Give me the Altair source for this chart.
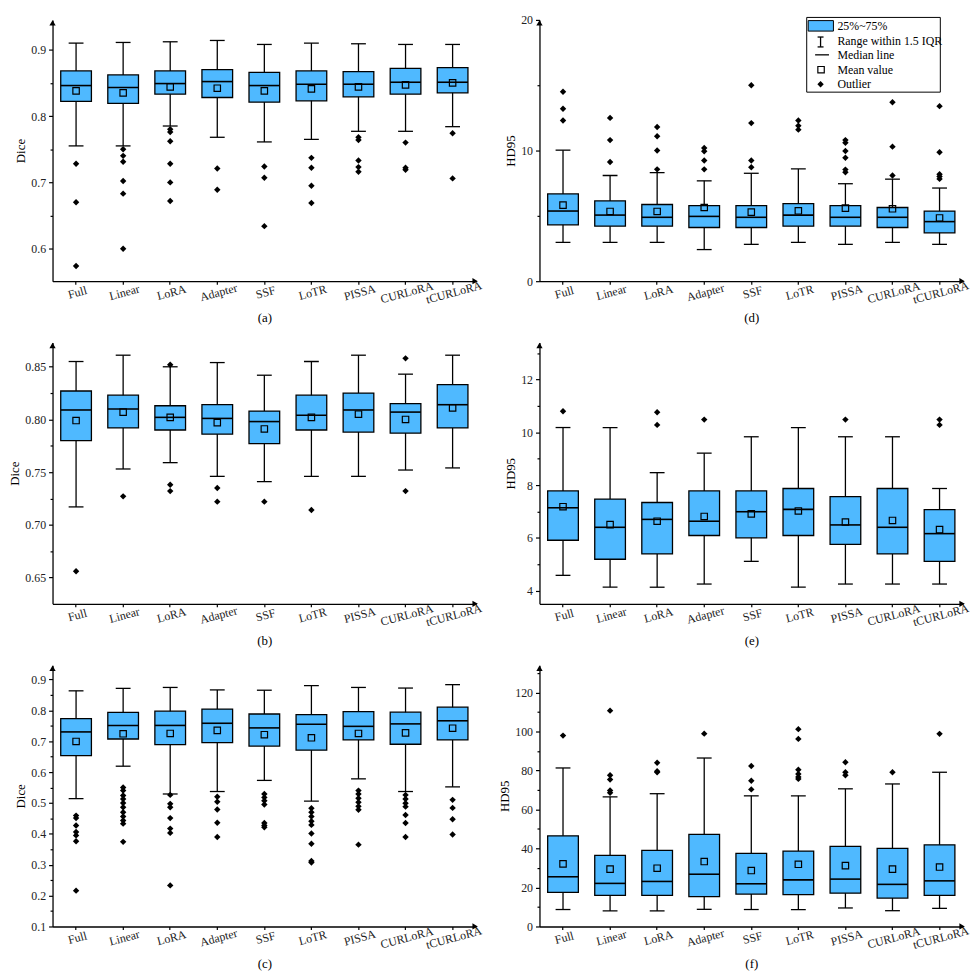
import altair as alt
import pandas as pd

METHODS = ["Full", "Linear", "LoRA", "Adapter", "SSF", "LoTR", "PISSA", "CURLoRA", "tCURLoRA"]
BLUE = "#4FB9FF"
FONT = "Liberation Serif"

# ---------- panel (a) Dice ----------
A_HI = [0.910, 0.911, 0.912, 0.914, 0.908, 0.910, 0.909, 0.908, 0.908]
A_Q3 = [0.868, 0.862, 0.868, 0.870, 0.866, 0.868, 0.867, 0.872, 0.873]
A_MED = [0.846, 0.843, 0.849, 0.852, 0.846, 0.848, 0.848, 0.851, 0.851]
A_Q1 = [0.822, 0.819, 0.833, 0.828, 0.821, 0.823, 0.829, 0.833, 0.835]
A_MEAN = [0.838, 0.835, 0.844, 0.842, 0.838, 0.841, 0.844, 0.847, 0.850]
A_LO = [0.755, 0.755, 0.785, 0.768, 0.761, 0.765, 0.777, 0.777, 0.784]
A_OUT = [[0.728, 0.670, 0.574], [0.750, 0.740, 0.731, 0.702, 0.683, 0.600],
         [0.780, 0.776, 0.762, 0.728, 0.700, 0.672], [0.721, 0.689],
         [0.724, 0.707, 0.634], [0.737, 0.722, 0.695, 0.669],
         [0.768, 0.764, 0.733, 0.723, 0.716], [0.760, 0.722, 0.719], [0.774, 0.706]]
A_TICKS = [0.6, 0.65, 0.7, 0.75, 0.8, 0.85, 0.9]

# ---------- panel (d) HD95 ----------
D_HI = [10.03, 8.09, 8.31, 7.68, 8.26, 8.59, 7.46, 7.81, 7.13]
D_Q3 = [6.68, 6.15, 5.87, 5.79, 5.79, 5.94, 5.79, 5.64, 5.37]
D_MED = [5.37, 5.06, 4.89, 4.96, 4.89, 5.06, 4.89, 4.89, 4.56]
D_Q1 = [4.31, 4.21, 4.21, 4.11, 4.11, 4.21, 4.21, 4.11, 3.70]
D_MEAN = [5.82, 5.34, 5.34, 5.64, 5.29, 5.39, 5.59, 5.54, 4.84]
D_LO = [2.97, 2.97, 2.97, 2.42, 2.82, 2.97, 2.82, 2.97, 2.82]
D_OUT = [[14.5, 13.2, 12.3], [12.5, 10.8, 9.12], [11.8, 11.1, 10.0, 8.56],
         [10.2, 9.95, 9.24, 8.56], [15.0, 12.1, 9.24, 8.72], [12.3, 11.9, 11.6],
         [10.8, 10.6, 9.97, 9.45, 8.54, 8.34], [13.7, 10.3, 8.09],
         [13.4, 9.87, 8.19, 8.01, 7.83]]
D_TICKS = [0, 5, 10, 15, 20]

# ---------- panel (b) Dice ----------
B_HI = [0.855, 0.861, 0.850, 0.854, 0.842, 0.855, 0.861, 0.843, 0.861]
B_Q3 = [0.827, 0.823, 0.813, 0.814, 0.808, 0.823, 0.825, 0.815, 0.833]
B_MED = [0.809, 0.810, 0.802, 0.801, 0.798, 0.804, 0.809, 0.807, 0.814]
B_Q1 = [0.780, 0.792, 0.790, 0.786, 0.777, 0.790, 0.788, 0.787, 0.792]
B_MEAN = [0.799, 0.807, 0.802, 0.797, 0.791, 0.802, 0.805, 0.800, 0.811]
B_LO = [0.717, 0.753, 0.759, 0.746, 0.741, 0.746, 0.746, 0.752, 0.754]
B_OUT = [[0.656], [0.727], [0.852, 0.738, 0.732], [0.735, 0.722], [0.722], [0.714],
         [], [0.858, 0.732], []]
B_TICKS = [0.65, 0.675, 0.70, 0.725, 0.75, 0.775, 0.80, 0.825, 0.85]

# ---------- panel (e) HD95 ----------
E_HI = [10.18, 10.18, 8.47, 9.21, 9.83, 10.18, 9.83, 9.83, 7.87]
E_Q3 = [7.78, 7.47, 7.34, 7.78, 7.78, 7.87, 7.56, 7.87, 7.07]
E_MED = [7.14, 6.40, 6.70, 6.63, 6.99, 7.08, 6.49, 6.40, 6.16]
E_Q1 = [5.91, 5.19, 5.39, 6.09, 6.00, 6.09, 5.75, 5.39, 5.11]
E_MEAN = [7.18, 6.50, 6.63, 6.81, 6.91, 7.02, 6.60, 6.66, 6.31]
E_LO = [4.58, 4.13, 4.13, 4.25, 5.11, 4.13, 4.25, 4.25, 4.25]
E_OUT = [[10.80], [], [10.76, 10.28], [10.48], [], [], [10.48], [], [10.48, 10.28]]
E_TICKS = [4, 5, 6, 7, 8, 9, 10, 11, 12, 13]

# ---------- panel (c) Dice ----------
C_HI = [0.863, 0.871, 0.874, 0.866, 0.865, 0.880, 0.874, 0.872, 0.883]
C_Q3 = [0.773, 0.793, 0.797, 0.804, 0.788, 0.786, 0.796, 0.794, 0.810]
C_MED = [0.730, 0.751, 0.751, 0.758, 0.743, 0.755, 0.748, 0.756, 0.766]
C_Q1 = [0.653, 0.707, 0.689, 0.695, 0.684, 0.671, 0.704, 0.690, 0.704]
C_MEAN = [0.699, 0.724, 0.725, 0.735, 0.721, 0.711, 0.725, 0.727, 0.742]
C_LO = [0.514, 0.619, 0.529, 0.537, 0.573, 0.506, 0.578, 0.537, 0.552]
C_OUT = [[0.459, 0.451, 0.427, 0.406, 0.395, 0.376, 0.216],
         [0.550, 0.540, 0.524, 0.513, 0.500, 0.486, 0.470, 0.456, 0.443, 0.433, 0.374],
         [0.526, 0.497, 0.486, 0.451, 0.417, 0.403, 0.233],
         [0.520, 0.504, 0.479, 0.436, 0.390],
         [0.529, 0.518, 0.507, 0.495, 0.435, 0.427, 0.421],
         [0.483, 0.470, 0.456, 0.441, 0.429, 0.401, 0.368, 0.312, 0.307],
         [0.540, 0.529, 0.515, 0.502, 0.489, 0.478, 0.365],
         [0.526, 0.513, 0.499, 0.488, 0.461, 0.435, 0.390],
         [0.510, 0.484, 0.447, 0.398]]
C_TICKS = [0.1, 0.15, 0.2, 0.25, 0.3, 0.35, 0.4, 0.45, 0.5, 0.55, 0.6, 0.65, 0.7, 0.75, 0.8, 0.85, 0.9]

# ---------- panel (f) HD95 ----------
F_HI = [81.3, 66.5, 68.1, 86.4, 67.0, 67.0, 70.6, 73.1, 79.1]
F_Q3 = [46.5, 36.5, 39.0, 47.2, 37.5, 38.7, 41.1, 40.1, 41.9]
F_MED = [25.5, 22.1, 23.1, 26.8, 21.9, 23.9, 24.3, 21.6, 23.4]
F_Q1 = [17.5, 16.0, 16.0, 15.3, 16.6, 16.3, 17.1, 14.6, 16.0]
F_MEAN = [32.1, 29.4, 29.9, 33.3, 28.7, 31.9, 31.2, 29.4, 30.5]
F_LO = [8.7, 8.0, 8.0, 8.8, 8.7, 8.7, 9.5, 8.1, 9.3]
F_OUT = [[97.9], [110.7, 77.6, 75.4, 69.8, 68.6], [84.0, 79.6, 79.1], [98.9],
         [82.3, 74.7, 70.3], [101.2, 96.2, 80.4, 78.2, 76.7, 75.7],
         [84.2, 79.1, 77.6], [79.1], [98.8]]
F_TICKS = [0, 10, 20, 30, 40, 50, 60, 70, 80, 90, 100, 110, 120, 130]

LEGEND_LABELS = ["25%~75%", "Range within 1.5 IQR", "Median line", "Mean value", "Outlier"]

W, H = 428, 264
ONE = pd.DataFrame({"k": [0]})


def panel(lo, q1, med, q3, hi, mean, outs, ticks, domain, major, fmt, ytitle, caption, legend=False):
    df = pd.DataFrame({"method": METHODS, "lo": lo, "q1": q1, "med": med,
                       "q3": q3, "hi": hi, "mean": mean})
    odf = pd.DataFrame([(m, v) for m, vs in zip(METHODS, outs) for v in vs],
                       columns=["method", "value"])
    minor_test = f"abs(datum.value / {major} - round(datum.value / {major})) > 0.001"
    xaxis = alt.Axis(title=caption, labelAngle=345, labelAlign="center", labelBaseline="top",
                     labelPadding=3, tickSize=3, titleY=31, titleBaseline="top",
                     titleFontSize=13, grid=False)
    yaxis = alt.Axis(title=ytitle, values=ticks, format=fmt, grid=False, labelFlush=False,
                     labelExpr=f"({minor_test}) ? '' : datum.label",
                     tickSize={"condition": {"test": minor_test, "value": 2.5}, "value": 4},
                     titlePadding=3, labelPadding=3, titleFontSize=13)
    xs = alt.Scale(type="band", domain=METHODS, paddingInner=0, paddingOuter=0)
    ys = alt.Scale(domain=domain, nice=False, zero=False)
    X = alt.X("method:N", sort=METHODS, scale=xs, axis=xaxis)

    def Y(f):
        return alt.Y(f"{f}:Q", scale=ys, axis=yaxis)

    base = alt.Chart(df)
    whisk = base.mark_rule(color="black", strokeWidth=1.3).encode(x=X, y=Y("lo"), y2="hi")
    box = base.mark_bar(size=31, color=BLUE, stroke="black", strokeWidth=1.3).encode(
        x=X, y=Y("q1"), y2="q3")
    cap_lo = base.mark_tick(size=15, thickness=1.3, color="black", opacity=1).encode(x=X, y=Y("lo"))
    cap_hi = base.mark_tick(size=15, thickness=1.3, color="black", opacity=1).encode(x=X, y=Y("hi"))
    median = base.mark_tick(size=31, thickness=1.6, color="black", opacity=1).encode(x=X, y=Y("med"))
    mean_pt = base.mark_point(shape="square", size=42, filled=False, color="black",
                              strokeWidth=1.2, opacity=1).encode(x=X, y=Y("mean"))
    out_pt = alt.Chart(odf).mark_point(shape="diamond", size=42, filled=True, color="black",
                                       opacity=1).encode(x=X, y=Y("value"))
    up = alt.Chart(ONE).mark_point(shape="triangle-up", size=40, filled=True, color="black",
                                   opacity=1).encode(x=alt.value(0), y=alt.value(3))
    right = alt.Chart(ONE).mark_point(shape="triangle-right", size=40, filled=True, color="black",
                                      opacity=1).encode(x=alt.value(W - 1), y=alt.value(H))
    layers = [whisk, box, cap_lo, cap_hi, median, mean_pt, out_pt, up, right]

    if legend:
        lx = 270
        frame = alt.Chart(ONE).mark_rect(fill="white", stroke="black", strokeWidth=1).encode(
            x=alt.value(lx), x2=alt.value(lx + 135), y=alt.value(-2.5), y2=alt.value(73))
        sw = alt.Chart(ONE).mark_rect(fill=BLUE, stroke="black", strokeWidth=1).encode(
            x=alt.value(lx + 1.5), x2=alt.value(lx + 27), y=alt.value(0.7), y2=alt.value(11.3))
        ib = alt.Chart(ONE).mark_rule(color="black", strokeWidth=1.3).encode(
            x=alt.value(lx + 14), y=alt.value(17.3), y2=alt.value(27.3))
        ib1 = alt.Chart(ONE).mark_rule(color="black", strokeWidth=1.3).encode(
            x=alt.value(lx + 11), x2=alt.value(lx + 17), y=alt.value(17.3))
        ib2 = alt.Chart(ONE).mark_rule(color="black", strokeWidth=1.3).encode(
            x=alt.value(lx + 11), x2=alt.value(lx + 17), y=alt.value(27.3))
        ml = alt.Chart(ONE).mark_rule(color="black", strokeWidth=1.3).encode(
            x=alt.value(lx + 8.5), x2=alt.value(lx + 22.5), y=alt.value(35.3))
        sq = alt.Chart(ONE).mark_point(shape="square", size=42, filled=False, color="black",
                                       strokeWidth=1.2, opacity=1).encode(
            x=alt.value(lx + 14.5), y=alt.value(50.3))
        dm = alt.Chart(ONE).mark_point(shape="diamond", size=42, filled=True, color="black",
                                       opacity=1).encode(x=alt.value(lx + 14), y=alt.value(65))
        layers += [frame, sw, ib, ib1, ib2, ml, sq, dm]
        for lab, yy in zip(LEGEND_LABELS, [6.3, 21.3, 35.3, 50.3, 65]):
            layers.append(alt.Chart(ONE).mark_text(align="left", baseline="middle", font=FONT,
                                                   fontSize=12, color="black").encode(
                x=alt.value(lx + 31), y=alt.value(yy), text=alt.value(lab)))

    return alt.layer(*layers).properties(width=W, height=H)


pa = panel(A_LO, A_Q1, A_MED, A_Q3, A_HI, A_MEAN, A_OUT, A_TICKS, [0.551, 0.945], 0.1, ".1f", "Dice", "(a)")
pd_ = panel(D_LO, D_Q1, D_MED, D_Q3, D_HI, D_MEAN, D_OUT, D_TICKS, [0, 20], 10, "d", "HD95", "(d)", legend=True)
pb = panel(B_LO, B_Q1, B_MED, B_Q3, B_HI, B_MEAN, B_OUT, B_TICKS, [0.625, 0.873], 0.05, ".2f", "Dice", "(b)")
pe = panel(E_LO, E_Q1, E_MED, E_Q3, E_HI, E_MEAN, E_OUT, E_TICKS, [3.5, 13.4], 2, "d", "HD95", "(e)")
pc = panel(C_LO, C_Q1, C_MED, C_Q3, C_HI, C_MEAN, C_OUT, C_TICKS, [0.1, 0.946], 0.1, ".1f", "Dice", "(c)")
pf = panel(F_LO, F_Q1, F_MED, F_Q3, F_HI, F_MEAN, F_OUT, F_TICKS, [0, 134], 20, "d", "HD95", "(f)")

chart = alt.concat(pa, pd_, pb, pe, pc, pf, columns=2,
                   spacing={"row": 62, "column": 64}, bounds="flush").properties(
    padding=0, background="white"
).configure_view(stroke="transparent").configure_axis(
    labelFont=FONT, titleFont=FONT, labelFontSize=12, labelColor="#222", titleColor="black",
    titleFontWeight="normal", domainColor="black", domainWidth=1.3, tickColor="black",
    tickWidth=1.2
)

chart.save("out.html", embed_options={"renderer": "svg", "actions": False})
